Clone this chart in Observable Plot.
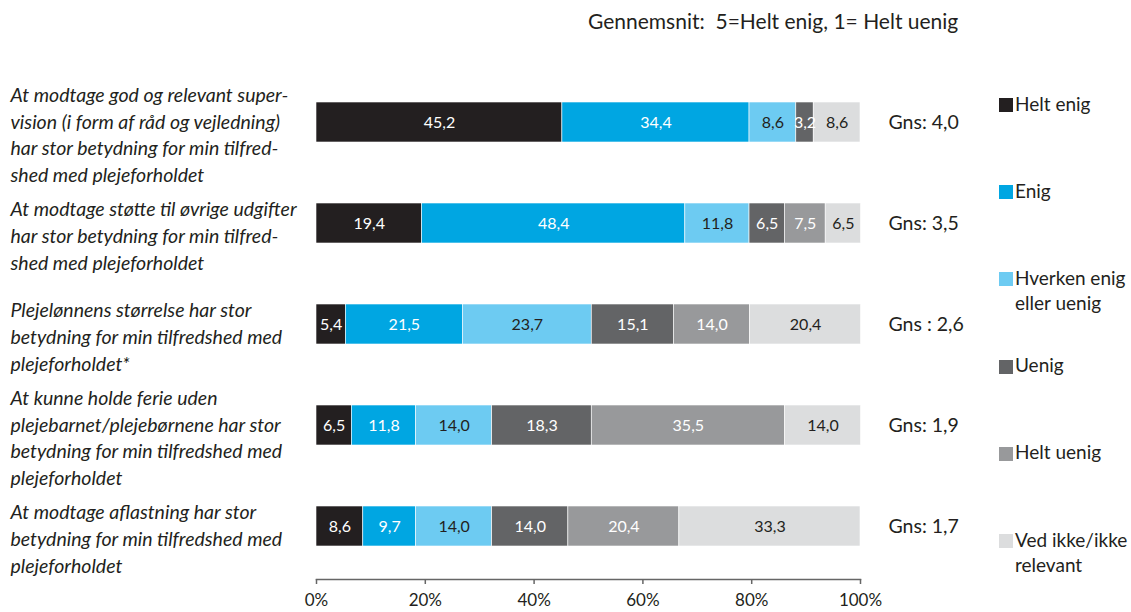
<!DOCTYPE html>
<html><head><meta charset="utf-8">
<script src="https://cdn.jsdelivr.net/npm/d3@7"></script>
<script src="https://cdn.jsdelivr.net/npm/@observablehq/plot@0.6"></script>
<style>
body{margin:0;background:#fff;font-family:Lato,"Open Sans",sans-serif;color:#231f20}
#wrap{position:relative;width:1131px;height:612px;overflow:hidden}
#title{position:absolute;left:588px;top:8px;font-size:21px;white-space:nowrap}
.leg{position:absolute;left:1015px;font-size:19px;line-height:25px;white-space:pre}
.sw{position:absolute;left:999px;width:14px;height:14px}
</style></head>
<body><div id="wrap"><div id="title">Gennemsnit:&nbsp; 5=Helt enig, 1= Helt uenig</div></div>
<script>
const questions = [
  "At modtage god og relevant super-\nvision (i form af råd og vejledning)\nhar stor betydning for min tilfred-\nshed med plejeforholdet",
  "At modtage støtte til øvrige udgifter\nhar stor betydning for min tilfred-\nshed med plejeforholdet",
  "Plejelønnens størrelse har stor\nbetydning for min tilfredshed med\nplejeforholdet*",
  "At kunne holde ferie uden\nplejebarnet/plejebørnene har stor\nbetydning for min tilfredshed med\nplejeforholdet",
  "At modtage aflastning har stor\nbetydning for min tilfredshed med\nplejeforholdet"
];
const categories = ["Helt enig","Enig","Hverken enig\neller uenig","Uenig","Helt uenig","Ved ikke/ikke\nrelevant"];
const heltEnig  = [45.2, 19.4, 5.4, 6.5, 8.6];
const enig      = [34.4, 48.4, 21.5, 11.8, 9.7];
const hverken   = [8.6, 11.8, 23.7, 14.0, 14.0];
const uenig     = [3.2, 6.5, 15.1, 18.3, 14.0];
const heltUenig = [0, 7.5, 14.0, 35.5, 20.4];
const vedIkke   = [8.6, 6.5, 20.4, 14.0, 33.3];
const gnsLabels = ["Gns: 4,0","Gns: 3,5","Gns : 2,6","Gns: 1,9","Gns: 1,7"];
const xTicks = [0,20,40,60,80,100];
const colors = ["#231f20","#00a6e2","#6dcbf2","#636466","#98999b","#dcddde"];
const textColors = ["#fff","#fff","#231f20","#fff","#fff","#231f20"];

const series = [heltEnig, enig, hverken, uenig, heltUenig, vedIkke];
const data = [];
questions.forEach((q, qi) => {
  series.forEach((s, ci) => {
    data.push({q, cat: categories[ci], ci, value: s[qi]});
  });
});
const labelData = data.filter(d => d.value > 0);
const fmt = v => v.toFixed(1).replace(".", ",");

const chart = Plot.plot({
  width: 1131, height: 612,
  marginLeft: 316, marginRight: 271, marginTop: 80, marginBottom: 33,
  style: {fontFamily: "Lato, 'Open Sans', sans-serif", color: "#231f20", background: "#fff"},
  x: {domain: [0, 100], ticks: xTicks, tickFormat: d => d + "%", label: null},
  y: {domain: questions, range: [80.3, 568.7], paddingInner: 0.6, paddingOuter: 0.2, axis: null},
  color: {domain: categories, range: colors},
  marks: [
    Plot.barX(data, Plot.stackX({x: "value", y: "q", z: "cat", fill: "cat", stroke: "#fff", strokeWidth: 0.6})),
    Plot.text(labelData, Plot.stackX({x: "value", y: "q", z: "cat", text: d => fmt(d.value),
      fill: d => textColors[d.ci], fontSize: 16})),
    Plot.text(questions, {y: d => d, text: d => d, frameAnchor: "left", dx: -306, textAnchor: "start",
      lineAnchor: "middle", lineHeight: 1.37, fontSize: 19.5, fontStyle: "italic", dy: 11, fill: "#231f20"}),
    Plot.text(questions, {y: d => d, text: (d, i) => gnsLabels[i], frameAnchor: "right", dx: 28, textAnchor: "start",
      fontSize: 19.5, fill: "#231f20"}),
    Plot.frame({anchor: "bottom", stroke: "#666", strokeWidth: 1.5}),
    Plot.axisX({ticks: xTicks, tickFormat: d => d + "%", tickSize: 5, tickPadding: 9, fontSize: 17, stroke: "#666", strokeWidth: 1.5, label: null})
  ]
});
const wrap = document.getElementById("wrap");
wrap.insertBefore(chart, wrap.firstChild);
chart.style.position = "absolute"; chart.style.left = "0"; chart.style.top = "0";

categories.forEach((c, i) => {
  const center = 103 + i * 87.2;
  const sw = document.createElement("div");
  sw.className = "sw"; sw.style.top = (center - 5) + "px"; sw.style.background = colors[i];
  wrap.appendChild(sw);
  const t = document.createElement("div");
  t.className = "leg"; t.style.top = (center - 12.5) + "px"; t.textContent = c;
  wrap.appendChild(t);
});
</script></body></html>
